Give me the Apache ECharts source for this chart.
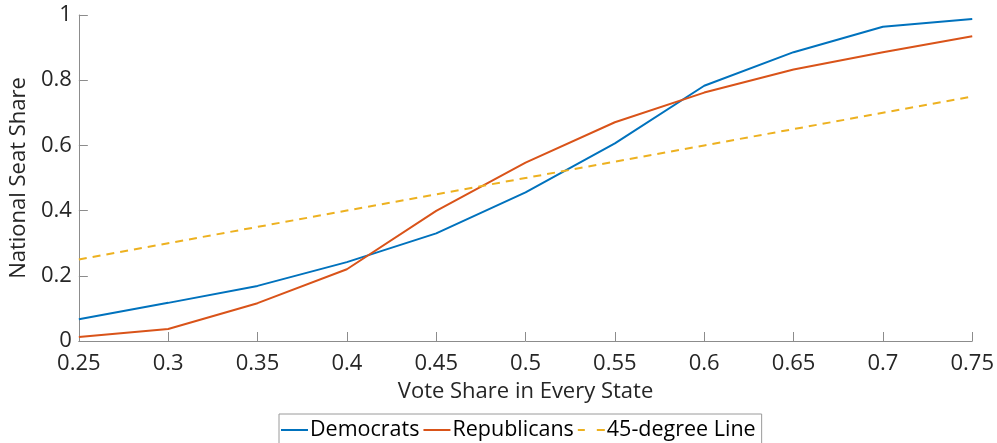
<!DOCTYPE html>
<html>
<head>
<meta charset="utf-8">
<script src="https://cdn.jsdelivr.net/npm/echarts@6/dist/echarts.min.js"></script>
<style>
html,body{margin:0;padding:0;background:#fff;}
#main{width:997px;height:443px;}
</style>
</head>
<body>
<div id="main"></div>
<script>
const voteShare = [0.25, 0.30, 0.35, 0.40, 0.45, 0.50, 0.55, 0.60, 0.65, 0.70, 0.75];
const democrats = [0.067, 0.117, 0.169, 0.242, 0.330, 0.456, 0.606, 0.783, 0.886, 0.964, 0.988];
const republicans = [0.012, 0.037, 0.116, 0.220, 0.399, 0.547, 0.671, 0.762, 0.833, 0.886, 0.935];
const fortyFive = [0.25, 0.30, 0.35, 0.40, 0.45, 0.50, 0.55, 0.60, 0.65, 0.70, 0.75];
const seriesNames = ['Democrats', 'Republicans', '45-degree Line'];

const pair = (ys) => voteShare.map((x, i) => [x, ys[i]]);
const FONT = 'Open Sans';
const SOLID_ICON = 'path://M0,0 L27,0 L27,2 L0,2 Z';
const DASH_ICON = 'path://M0,0 L7,0 L7,2 L0,2 Z M19,0 L27,0 L27,2 L19,2 Z';
const chart = echarts.init(document.getElementById('main'));
const axisCommon = {
  axisLine: {show: true, lineStyle: {color: '#8c8c8c', width: 1}},
  axisTick: {show: true, inside: true, length: 9, lineStyle: {color: '#8c8c8c', width: 1}},
  splitLine: {show: false},
  nameLocation: 'middle',
  nameTextStyle: {fontFamily: FONT, fontSize: 22, color: '#262626'}
};
chart.setOption({
  animation: false,
  backgroundColor: '#fff',
  grid: {left: 75.5, right: 24.5, top: 15, bottom: 102, containLabel: false},
  legend: {
    data: [
      {name: seriesNames[0], icon: SOLID_ICON},
      {name: seriesNames[1], icon: SOLID_ICON},
      {name: seriesNames[2], icon: DASH_ICON}
    ],
    left: 279, top: 414,
    orient: 'horizontal',
    itemWidth: 27, itemHeight: 14, itemGap: 4,
    borderColor: '#9a9a9a', borderWidth: 1, borderRadius: 0,
    padding: [5, 6, 6, 2],
    textStyle: {fontFamily: FONT, fontSize: 21.5, color: '#000', padding: [0, 0, 0, -3]}
  },
  xAxis: Object.assign({}, axisCommon, {
    type: 'value', min: 0.25, max: 0.75, interval: 0.05,
    name: 'Vote Share in Every State', nameGap: 40,
    axisLabel: {fontFamily: FONT, fontSize: 22, color: '#262626', margin: 12,
      formatter: v => String(+v.toFixed(2))}
  }),
  yAxis: Object.assign({}, axisCommon, {
    type: 'value', min: 0, max: 1, interval: 0.2,
    name: 'National Seat Share', nameGap: 41, nameRotate: 90,
    axisLabel: {fontFamily: FONT, fontSize: 22, color: '#262626', margin: 7,
      formatter: v => String(+v.toFixed(1))}
  }),
  series: [
    {name: seriesNames[0], type: 'line', data: pair(democrats), showSymbol: false, symbol: 'none',
     lineStyle: {color: '#0072BD', width: 2}, itemStyle: {color: '#0072BD'}},
    {name: seriesNames[1], type: 'line', data: pair(republicans), showSymbol: false, symbol: 'none',
     lineStyle: {color: '#D95319', width: 2}, itemStyle: {color: '#D95319'}},
    {name: seriesNames[2], type: 'line', data: pair(fortyFive), showSymbol: false, symbol: 'none',
     lineStyle: {color: '#EDB120', width: 2, type: [8, 6]}, itemStyle: {color: '#EDB120'}}
  ]
});
</script>
</body>
</html>
